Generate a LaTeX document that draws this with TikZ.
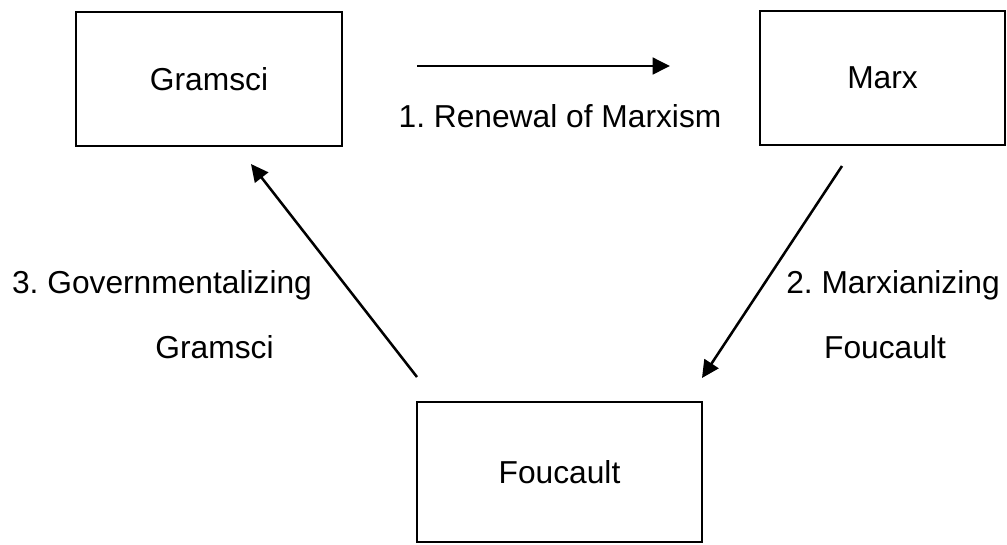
\documentclass[tikz,border=0pt]{standalone}
\usepackage{fontspec}
\setmainfont{Liberation Sans}
\usetikzlibrary{arrows.meta}
\frenchspacing

\begin{document}
\begin{tikzpicture}[x=0.75pt, y=-0.75pt, font=\fontsize{23.8}{28}\selectfont,
    thinker/.style = {draw, line width=0.9pt, inner sep=0pt},
    flow/.style = {line width=1.9pt, -{Triangle[length=13pt, width=12.5pt]}},
    caption/.style = {anchor=base}]
    \useasboundingbox (0,0) rectangle (1007,544);
    \node[thinker, minimum width=199.5pt, minimum height=100.5pt] (gramsci) at (209,79) {Gramsci};
    \node[thinker, minimum width=183.75pt, minimum height=100.5pt] (marx) at (882.5,78) {Marx};
    \node[thinker, minimum width=213.75pt, minimum height=105pt] (foucault) at (559.5,472) {Foucault};
    \coordinate (r1) at (417,66);
    \coordinate (r2) at (670,66);
    \coordinate (m1) at (842,166);
    \coordinate (m2) at (702,378);
    \coordinate (g1) at (417,377);
    \coordinate (g2) at (251,164);
    \draw[flow] (r1) -- (r2);
    \draw[flow] (m1) -- (m2);
    \draw[flow] (g1) -- (g2);
    \node[caption] (renewal) at (560,127) {1. Renewal of Marxism};
    \node[caption] (marxian) at (893,293) {2. Marxianizing};
    \node[caption] (marxian2) at (885,358) {Foucault};
    \node[caption] (govern) at (162,293) {3. Governmentalizing};
    \node[caption] (govern2) at (214.5,358) {Gramsci};
\end{tikzpicture}
\end{document}
